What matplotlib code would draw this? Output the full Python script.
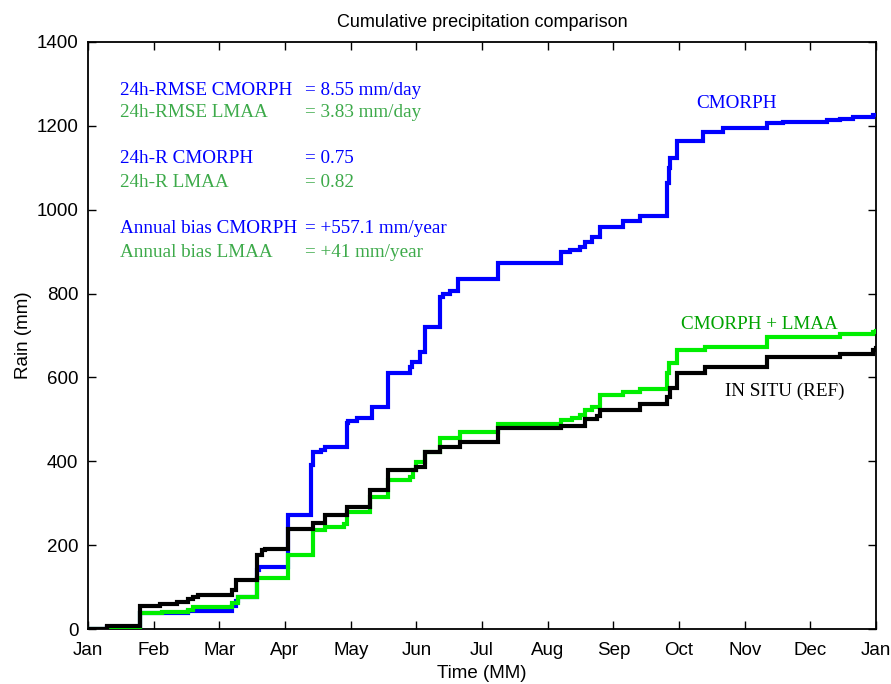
import matplotlib
matplotlib.use("Agg")
import matplotlib.pyplot as plt

# ---- data (x in months since 1 Jan, y cumulative rain in mm) ----
month_labels = ["Jan", "Feb", "Mar", "Apr", "May", "Jun", "Jul", "Aug",
                "Sep", "Oct", "Nov", "Dec", "Jan"]

t_cmorph = [0, 0.29, 0.79, 1.12, 1.52, 2.20, 2.26, 2.29, 2.57, 2.60, 3.04,
            3.40, 3.43, 3.55, 3.61, 3.94, 3.96, 4.09, 4.32, 4.57, 4.90, 4.93,
            5.06, 5.13, 5.36, 5.40, 5.51, 5.63, 6.24, 7.21, 7.34, 7.49, 7.57,
            7.67, 7.80, 8.15, 8.41, 8.81, 8.84, 8.87, 8.97, 9.37, 9.67, 10.34,
            10.58, 11.25, 11.45, 11.65, 11.95, 12.0]
v_cmorph = [0, 4, 37, 38, 44, 55, 66, 77, 140, 149, 272,
            391, 423, 427, 433, 491, 496, 503, 530, 610, 625, 637,
            661, 721, 793, 800, 805, 835, 873, 899, 904, 912, 924,
            936, 959, 973, 985, 1063, 1100, 1123, 1165, 1185, 1194, 1206,
            1210, 1213, 1217, 1220, 1225, 1225]

t_lmaa = [0, 0.35, 0.79, 1.12, 1.52, 1.60, 2.19, 2.28, 2.57, 3.05, 3.43,
          3.61, 3.90, 3.94, 4.29, 4.57, 4.90, 4.95, 5.00, 5.13, 5.36, 5.67,
          6.24, 7.21, 7.37, 7.49, 7.57, 7.67, 7.80, 8.15, 8.41, 8.81, 8.84,
          8.97, 9.40, 10.34, 11.45, 11.95, 12.0]
v_lmaa = [0, 2, 37, 41, 45, 52, 62, 77, 121, 176, 236,
          244, 250, 280, 316, 355, 363, 379, 399, 423, 455, 471,
          490, 498, 503, 510, 522, 530, 558, 566, 572, 610, 634,
          665, 673, 697, 703, 709, 710]

t_insitu = [0, 0.29, 0.79, 1.10, 1.35, 1.52, 1.60, 1.68, 2.19, 2.26, 2.57,
            2.65, 2.70, 3.05, 3.43, 3.61, 3.94, 4.29, 4.57, 5.00, 5.13, 5.36,
            5.67, 6.24, 7.21, 7.49, 7.57, 7.75, 7.80, 8.41, 8.81, 8.87, 8.97,
            9.40, 10.34, 11.45, 11.95, 12.0]
v_insitu = [0, 7, 55, 60, 65, 71, 77, 80, 93, 117, 176,
            188, 192, 238, 252, 272, 292, 331, 379, 387, 423, 435,
            447, 479, 484, 485, 502, 508, 522, 537, 554, 574, 610,
            626, 649, 657, 665, 670]

stat_names = ["24h-RMSE CMORPH", "24h-RMSE LMAA", "24h-R CMORPH", "24h-R LMAA",
              "Annual bias CMORPH", "Annual bias LMAA"]
stat_values = ["= 8.55 mm/day", "= 3.83 mm/day", "= 0.75", "= 0.82",
               "= +557.1 mm/year", "= +41 mm/year"]

# ---- styling ----
BLUE = "#0000ff"
GREEN = "#00ee00"
TXT_GREEN = "#3daa4a"
LBL_GREEN = "#00a300"
SANS = ["Liberation Sans", "DejaVu Sans"]
SERIF = ["Liberation Serif", "DejaVu Serif"]

fig = plt.figure(figsize=(8.91, 6.84), dpi=100)
ax = fig.add_axes([0.0988, 0.0804, 0.8844, 0.8582])

LW = 3.0
ax.plot(t_cmorph, v_cmorph, drawstyle="steps-post", color=BLUE, lw=LW,
        solid_joinstyle="miter", zorder=3)
ax.plot(t_lmaa, v_lmaa, drawstyle="steps-post", color=GREEN, lw=LW,
        solid_joinstyle="miter", zorder=4)
ax.plot(t_insitu, v_insitu, drawstyle="steps-post", color="black", lw=LW,
        solid_joinstyle="miter", zorder=5)

ax.set_xlim(0, 12)
ax.set_ylim(0, 1400)
ax.set_xticks(range(13))
ax.set_xticklabels(month_labels, fontfamily=SANS, fontsize=13.5)
ax.set_yticks(range(0, 1401, 200))
ax.set_yticklabels([str(v) for v in range(0, 1401, 200)], fontfamily=SANS, fontsize=13.5)
ax.tick_params(axis="both", direction="in", length=6, width=1.0, top=True,
               right=True, colors="black")
ax.tick_params(axis="x", pad=9)
ax.tick_params(axis="y", pad=7)
for s in ax.spines.values():
    s.set_linewidth(1.3)

ax.set_title("Cumulative precipitation comparison", fontfamily=SANS,
             fontsize=13, pad=11)
ax.set_xlabel("Time (MM)", fontfamily=SANS, fontsize=13.5, labelpad=5)
ax.set_ylabel("Rain (mm)", fontfamily=SANS, fontsize=13.5, labelpad=3)

# statistics block
ys = [1285, 1231, 1121, 1064, 956, 899]
cols = [BLUE, TXT_GREEN, BLUE, TXT_GREEN, BLUE, TXT_GREEN]
for name, val, y, c in zip(stat_names, stat_values, ys, cols):
    ax.text(0.487, y, name, color=c, fontfamily=SERIF, fontsize=13.8,
            va="center", ha="left")
    ax.text(3.30, y, val, color=c, fontfamily=SERIF, fontsize=13.8,
            va="center", ha="left")

ax.text(9.88, 1254, "CMORPH", color=BLUE, fontfamily=SERIF, fontsize=13.8,
        ha="center", va="center")
ax.text(10.23, 727, "CMORPH + LMAA", color=LBL_GREEN, fontfamily=SERIF,
        fontsize=13.8, ha="center", va="center")
ax.text(10.61, 568, "IN SITU (REF)", color="black", fontfamily=SERIF,
        fontsize=13.8, ha="center", va="center")

fig.savefig("out.png", dpi=100)
